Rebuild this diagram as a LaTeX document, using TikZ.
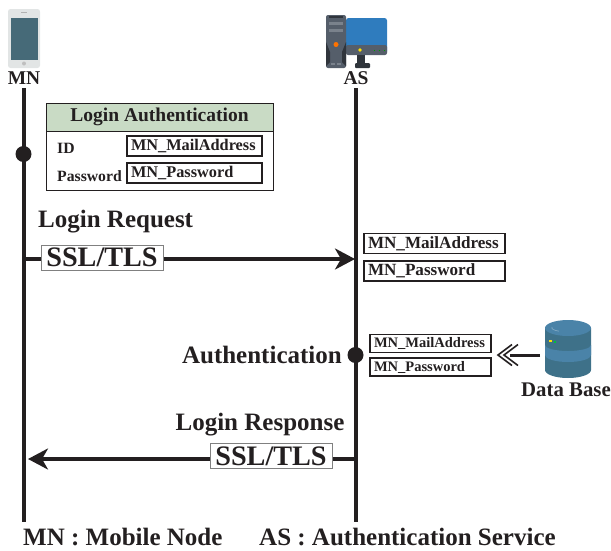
\documentclass[tikz,border=0pt]{standalone}
\usepackage{fontspec}
\setmainfont{Liberation Serif}
\usepackage{tikz}
\usetikzlibrary{arrows.meta,positioning,shapes.geometric}
\definecolor{headgreen}{HTML}{C9DBC5}
\definecolor{inkblack}{HTML}{231F20}
\definecolor{phonegray}{HTML}{E2E5E5}
\definecolor{screenteal}{HTML}{466A78}
\definecolor{towerdark}{HTML}{555E6A}
\definecolor{towerside}{HTML}{30353C}
\definecolor{towerlight}{HTML}{7A828C}
\definecolor{screenblue}{HTML}{2F7CBE}
\definecolor{dbblue}{HTML}{4A83A8}
\definecolor{dbdark}{HTML}{3E7189}
\begin{document}
\begin{tikzpicture}[x=1pt,y=-1pt,inkblack]
	\tikzset{
		lifeline/.style={line width=4pt,inkblack},
		msg/.style={line width=3.2pt,inkblack,-{Stealth[length=20pt,width=21pt,inset=6pt]}},
		dot/.style={circle,fill=inkblack,inner sep=0pt,minimum size=16pt},
		title/.style={font=\fontsize{25}{25}\bfseries\selectfont,inner sep=0pt},
		label/.style={font=\fontsize{19.5}{20}\bfseries\selectfont,inner sep=0pt},
		small/.style={font=\fontsize{15.7}{16}\bfseries\selectfont,inner sep=0pt},
		field/.style={draw=inkblack,line width=1.6pt,fill=white,minimum height=20pt,inner xsep=4pt,inner ysep=0pt,text width=133pt,align=left,font=\fontsize{17.1}{17}\bfseries\selectfont},
		fieldmid/.style={field,text width=127pt,font=\fontsize{16.3}{16}\bfseries\selectfont},
		fieldsmall/.style={field,text width=113pt,minimum height=18pt,font=\fontsize{14.5}{14}\bfseries\selectfont},
		ssl/.style={draw=gray,line width=1pt,fill=white,minimum width=122pt,minimum height=25pt,inner sep=0pt,font=\fontsize{28.2}{28}\bfseries\selectfont},
	}
	\useasboundingbox (0,0) rectangle (611,550);
	% phone
	\fill[phonegray,rounded corners=2.5pt] (8,9) rectangle (40,68);
	\fill[screenteal] (10.5,17.5) rectangle (37.5,59.5);
	\fill[gray!60] (21,12.3) rectangle (27,13.3);
	\fill[gray!50] (24,63.5) circle (2pt);
	% computer
	\fill[screenblue,rounded corners=2.5pt] (346,18) rectangle (387,54);
	\fill[towerdark,rounded corners=2pt] (346,45) rectangle (387,55);
	\fill[towerside] (357,55) rectangle (365,63);
	\fill[towerside,rounded corners=1pt] (355,63) rectangle (370,68);
	\fill[towerdark,rounded corners=2pt] (326,15) rectangle (346,68);
	\fill[towerside] (329,15.5) rectangle (343,17.5);
	\fill[towerside] (326,42) -- (330,52) -- (330,62) -- (326,66) -- cycle;
	\fill[towerside] (346,42) -- (342,52) -- (342,62) -- (346,66) -- cycle;
	\fill[towerlight] (329,22) rectangle (343,25);
	\fill[towerlight] (329,28.5) rectangle (343,31.5);
	\fill[towerlight] (331,62.5) rectangle (335,64.5);
	\fill[towerlight] (337,62.5) rectangle (341,64.5);
	\fill[orange!90!red] (336,44.5) circle (2.5pt);
	\fill[yellow!85!orange] (360,50) circle (1.8pt);
	\foreach \x in {375,380,385} \fill[green!60!black] (\x-0.5,50.5) circle (0.7pt);
	% data base
	\fill[dbdark] (545,328) -- (545,370) arc[start angle=180,end angle=0,x radius=23,y radius=8] -- (591,328) -- cycle;
	\fill[dbblue] (545,345) arc[start angle=180,end angle=0,x radius=23,y radius=6] -- (591,355) arc[start angle=0,end angle=180,x radius=23,y radius=7] -- cycle;
	\fill[dbblue] (568,328) ellipse (23pt and 8pt);
	\draw[dbblue!70!white,line width=0.7pt] (552,327) arc[start angle=170,end angle=240,x radius=14,y radius=-4];
	\fill[yellow!85!orange] (549,339.5) rectangle (552,341.5);
	\fill[green!50!teal] (553.5,341) rectangle (556,343);

	\node[label] (mn) at (24,78) {MN};
	\node[label] (as) at (356,78) {AS};
	\coordinate (mntop) at (23.5,88);
	\coordinate (mnbot) at (23.5,522);
	\coordinate (astop) at (355.5,88);
	\coordinate (asbot) at (355.5,522);
	\draw[lifeline] (mntop) -- (mnbot);
	\draw[lifeline] (astop) -- (asbot);
	\node[dot] (mndot) at (23.5,154) {};
	\node[dot] (asdot) at (355.5,355) {};

	% login box
	\node[draw=inkblack,line width=0.9pt,minimum width=227pt,minimum height=87pt,inner sep=0pt] (loginbox) at (159.5,146.5) {};
	\node[draw=inkblack,line width=0.9pt,fill=headgreen,minimum width=227pt,minimum height=28pt,inner sep=0pt] (loginhead) at (159.5,117) {};
	\node[font=\fontsize{19.5}{20}\bfseries\selectfont,inner sep=0pt] (logintitle) at (159.5,117) {Login Authentication};
	\node[small,anchor=west] (idlabel) at (57,148) {ID};
	\node[small,anchor=west] (pwlabel) at (57,176) {Password};
	\node[fieldmid] (idfield) at (194.5,146) {MN\_MailAddress};
	\node[fieldmid] (pwfield) at (194.5,173) {MN\_Password};

	% login request
	\node[title,anchor=west] (reqlabel) at (38,222) {Login Request};
	\node[ssl] (reqssl) at (102,257.5) {SSL/TLS};
	\coordinate (mnreq) at (25.5,259);
	\coordinate (asreq) at (355,259);
	\draw[line width=3.2pt] (mnreq) -- (reqssl.west |- mnreq);
	\draw[msg] (reqssl.east |- asreq) -- (asreq);
	\node[field] (mail1) at (434.5,243.5) {MN\_MailAddress};
	\node[field] (pass1) at (434.5,271) {MN\_Password};

	% authentication
	\node[title,anchor=east] (authlabel) at (342,355) {Authentication};
	\node[fieldsmall] (mail2) at (430.5,343.5) {MN\_MailAddress};
	\node[fieldsmall] (pass2) at (430.5,367) {MN\_Password};
	\node[font=\fontsize{20.8}{21}\bfseries\selectfont,inner sep=0pt] (dblabel) at (566,390) {Data Base};
	\coordinate (dbedge) at (540,355);
	\coordinate (dbtip) at (498,355);
	\draw[line width=3pt] (dbedge) -- (510,355);
	\draw[line width=1.6pt] (512,344.5) -- (dbtip) -- (512,365.5);
	\draw[line width=1.6pt] (518,344.5) -- (504,355) -- (518,365.5);

	% login response
	\node[title] (reslabel) at (260,425) {Login Response};
	\node[ssl] (resssl) at (271,456) {SSL/TLS};
	\coordinate (asres) at (355,459);
	\coordinate (mnres) at (28,459);
	\draw[line width=3.2pt] (asres) -- (resssl.east |- asres);
	\draw[msg] (resssl.west |- mnres) -- (mnres);

	% legend
	\node[title,anchor=west] (mnnote) at (23,537) {MN : Mobile Node};
	\node[title,anchor=west] (asnote) at (259,537) {AS : Authentication Service};
\end{tikzpicture}
\end{document}
